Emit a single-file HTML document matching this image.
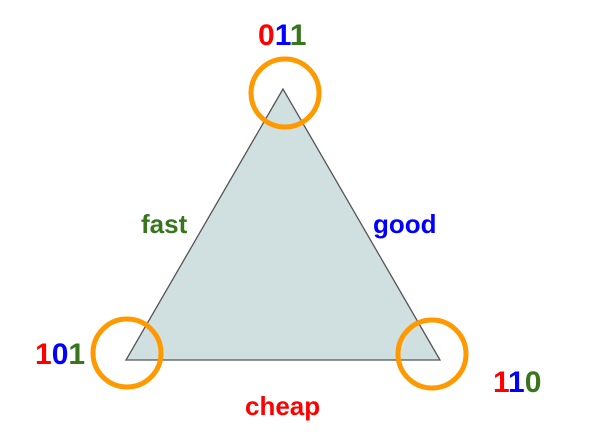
<!DOCTYPE html>
<html><head><meta charset="utf-8"><style>
html,body{margin:0;padding:0;background:#fff;}
svg{display:block;}
text{font-family:"Liberation Sans",Arial,sans-serif;font-weight:bold;}
</style></head><body>
<svg width="590" height="448" viewBox="0 0 590 448">
  <polygon points="283,89 126,360 440,360" fill="#d0dfe0" stroke="#555" stroke-width="1.3"/>
  <circle cx="285" cy="93" r="34" fill="none" stroke="#ff9900" stroke-width="5"/>
  <circle cx="127" cy="353" r="34" fill="none" stroke="#ff9900" stroke-width="5"/>
  <circle cx="432" cy="354" r="34" fill="none" stroke="#ff9900" stroke-width="5"/>
  <text x="258" y="45" font-size="30"><tspan fill="#ff0000">0</tspan><tspan fill="#0000ff">1</tspan><tspan fill="#38761d">1</tspan></text>
  <text x="35" y="364" font-size="30"><tspan fill="#ff0000">1</tspan><tspan fill="#0000ff">0</tspan><tspan fill="#38761d">1</tspan></text>
  <text x="493" y="392" font-size="30"><tspan fill="#ff0000">1</tspan><tspan fill="#0000ff">1</tspan><tspan fill="#38761d">0</tspan></text>
  <text x="141" y="233" font-size="26" fill="#38761d">fast</text>
  <text x="373" y="233" font-size="26" fill="#0000ff">good</text>
  <text x="245" y="415" font-size="26" fill="#ff0000">cheap</text>
</svg>
</body></html>
